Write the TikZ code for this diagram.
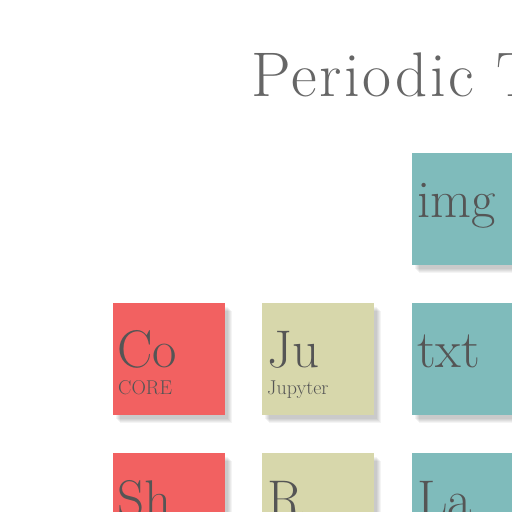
\documentclass[tikz,border=0pt]{standalone}
\usepackage{fontspec}
\setmainfont{Latin Modern Roman}
\usetikzlibrary{positioning,shadows}

\definecolor{corered}{HTML}{F26161}
\definecolor{jupyolive}{HTML}{D7D7AB}
\definecolor{fmtteal}{HTML}{7FBBBB}
\definecolor{inkgray}{HTML}{555555}

\begin{document}
\begin{tikzpicture}[x=1pt, y=-1pt,
    softshade/.style={drop shadow={shadow xshift=#1pt, shadow yshift=-#1pt-1pt, fill=black, opacity=0.045}},
    element/.style={rectangle, minimum size=112pt, inner sep=0pt, anchor=north west,
      softshade=3, softshade=4, softshade=5, softshade=6, softshade=7},
    symbol/.style={anchor=base west, inner sep=0pt, text=inkgray, font=\fontsize{53}{53}\selectfont},
    elname/.style={anchor=base west, inner sep=0pt, text=inkgray, font=\fontsize{20}{20}\selectfont}]
    % Page frame
    \fill[white] (0,0) rectangle (512,512);
    \clip (0,0) rectangle (512,512);

    % Title
    \node[anchor=base west, inner sep=0pt, text=inkgray!90,
      font=\fontsize{63}{63}\selectfont\addfontfeature{LetterSpace=4}] (title) at (251,96) {Periodic T};

    % Elements
    \node[element, fill=fmtteal] (img) at (412,153) {};
    \node[element, fill=corered] (co) at (113,303) {};
    \node[element, fill=jupyolive] (ju) at (262,303) {};
    \node[element, fill=fmtteal] (txt) at (412,303) {};
    \node[element, fill=corered] (sh) at (113,453) {};
    \node[element, fill=jupyolive] (r) at (262,453) {};
    \node[element, fill=fmtteal] (la) at (412,453) {};

    % Symbols
    \node[symbol] (img-sym) at ([xshift=5pt, yshift=-64pt]img.north west) {img};
    \node[symbol] (co-sym) at ([xshift=4pt, yshift=-64pt]co.north west) {Co};
    \node[symbol] (ju-sym) at ([xshift=5pt, yshift=-64pt]ju.north west) {Ju};
    \node[symbol] (txt-sym) at ([xshift=5pt, yshift=-64pt]txt.north west) {txt};
    \node[symbol] (sh-sym) at ([xshift=4pt, yshift=-64pt]sh.north west) {Sh};
    \node[symbol] (r-sym) at ([xshift=5pt, yshift=-64pt]r.north west) {R};
    \node[symbol] (la-sym) at ([xshift=5pt, yshift=-64pt]la.north west) {La};

    % Names
    \node[elname] (co-name) at ([xshift=5pt, yshift=-91pt]co.north west) {CORE};
    \node[elname] (ju-name) at ([xshift=5pt, yshift=-91pt]ju.north west) {Jupyter};
\end{tikzpicture}
\end{document}
